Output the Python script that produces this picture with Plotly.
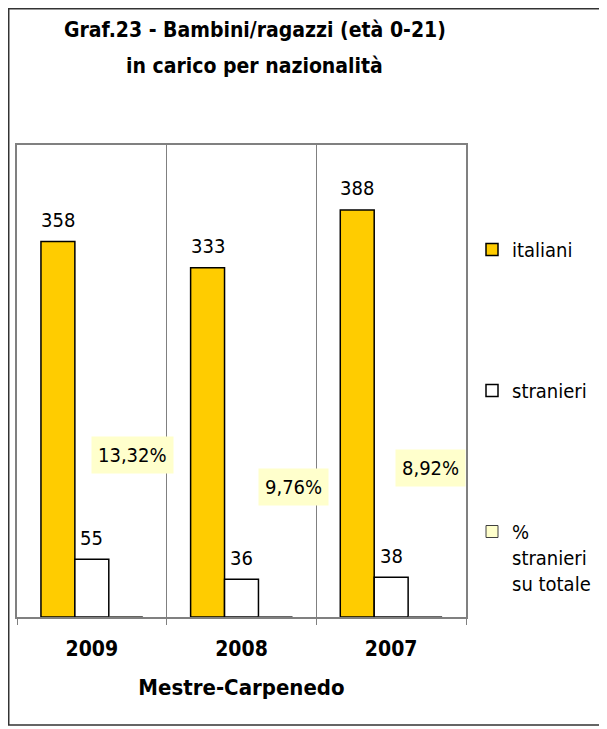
import plotly.graph_objects as go

# data
years = ["2009", "2008", "2007"]
italiani = [358, 333, 388]
stranieri = [55, 36, 38]
pct_stranieri = [13.32, 9.76, 8.92]

FONT = "Tahoma, 'DejaVu Sans Condensed', 'DejaVu Sans', sans-serif"
GOLD = "#FFCC00"
CREAM = "#FFFFCC"

# the page body has an 8px margin, so the figure is drawn 8px in and 8px down
W, H = 599, 721
L, T = 9, 137
PW, PH = 449, 472

fig = go.Figure()

fig.add_trace(go.Bar(
    x=years, y=italiani, name="italiani",
    marker=dict(color=GOLD, line=dict(color="black", width=1.5)),
    legendgroup="a",
))
fig.add_trace(go.Bar(
    x=years, y=stranieri, name="stranieri",
    marker=dict(color="white", line=dict(color="black", width=1.5)),
    legendgroup="b",
))
# percentage series: plotted as fractions, so its bars are flat
fig.add_trace(go.Bar(
    x=years, y=[p / 100 for p in pct_stranieri], name="%<br>stranieri<br>su totale",
    marker=dict(color=CREAM, line=dict(color="#404040", width=1)),
    legendgroup="c",
))

# value labels above the bars (x as category index)
for i, v in enumerate(italiani):
    fig.add_annotation(x=i, y=v, text=str(v), showarrow=False,
                       xshift=-34, yshift=22, font=dict(size=20, color="black", family=FONT))
for i, v in enumerate(stranieri):
    fig.add_annotation(x=i, y=v, text=str(v), showarrow=False,
                       xshift=0, yshift=21, font=dict(size=20, color="black", family=FONT))

# percentage labels, placed by hand as in the original
pct_xshift = [41, 52, 39]
pct_ypos = [154, 124, 142]
for i, (p, dx, yy) in enumerate(zip(pct_stranieri, pct_xshift, pct_ypos)):
    fig.add_annotation(x=i, y=yy, text=f"{p:.2f}%".replace(".", ","), showarrow=False,
                       xshift=dx, bgcolor=CREAM, borderpad=6,
                       font=dict(size=20, color="black", family=FONT))

# title, two lines
fig.add_annotation(xref="paper", yref="paper", x=0.530, y=1.2436, showarrow=False,
                   xanchor="center", yanchor="middle",
                   text="<b>Graf.23 - Bambini/ragazzi (età 0-21)</b>",
                   font=dict(size=21, family=FONT, color="black"))
fig.add_annotation(xref="paper", yref="paper", x=0.530, y=1.1674, showarrow=False,
                   xanchor="center", yanchor="middle",
                   text="<b>in carico per nazionalità</b>",
                   font=dict(size=21, family=FONT, color="black"))

# outer frame
fig.add_shape(type="rect", xref="paper", yref="paper",
              x0=-0.0184, x1=1.3096, y0=-0.2288, y1=1.2887,
              line=dict(color="#333333", width=1.5))

fig.update_layout(
    width=W, height=H,
    margin=dict(l=L, r=W - L - PW, t=T, b=H - T - PH, autoexpand=False),
    paper_bgcolor="white", plot_bgcolor="white",
    barmode="group", bargap=0.32, bargroupgap=0,
    font=dict(family=FONT, size=20, color="black"),
    legend=dict(
        xref="container", yref="container",
        x=464 / W, xanchor="left", y=1 - 222 / H, yanchor="top",
        tracegroupgap=112, valign="top", maxheight=700,
        font=dict(size=20, family=FONT, color="black"),
        bgcolor="rgba(0,0,0,0)",
    ),
    showlegend=True,
)

fig.update_xaxes(
    type="category", categoryorder="array", categoryarray=years,
    range=[-0.5, 2.5], automargin=False,
    tickson="boundaries", ticks="outside", ticklen=6, tickcolor="#808080",
    showgrid=True, gridcolor="#808080", gridwidth=1,
    showline=True, linecolor="#808080", linewidth=1.5, mirror=True,
    tickfont=dict(size=21, family=FONT, color="black"),
    tickprefix="<b>", ticksuffix="</b>", tickangle=0, ticklabelstandoff=12,
    title=dict(text="<b>Mestre-Carpenedo</b>", standoff=20,
               font=dict(size=22, family=FONT, color="black")),
)
fig.update_yaxes(
    range=[0, 450], showticklabels=False, showgrid=False, zeroline=False,
    automargin=False,
    showline=True, linecolor="#808080", linewidth=1.5, mirror=True, ticks="",
)

fig.write_html("out.html")
